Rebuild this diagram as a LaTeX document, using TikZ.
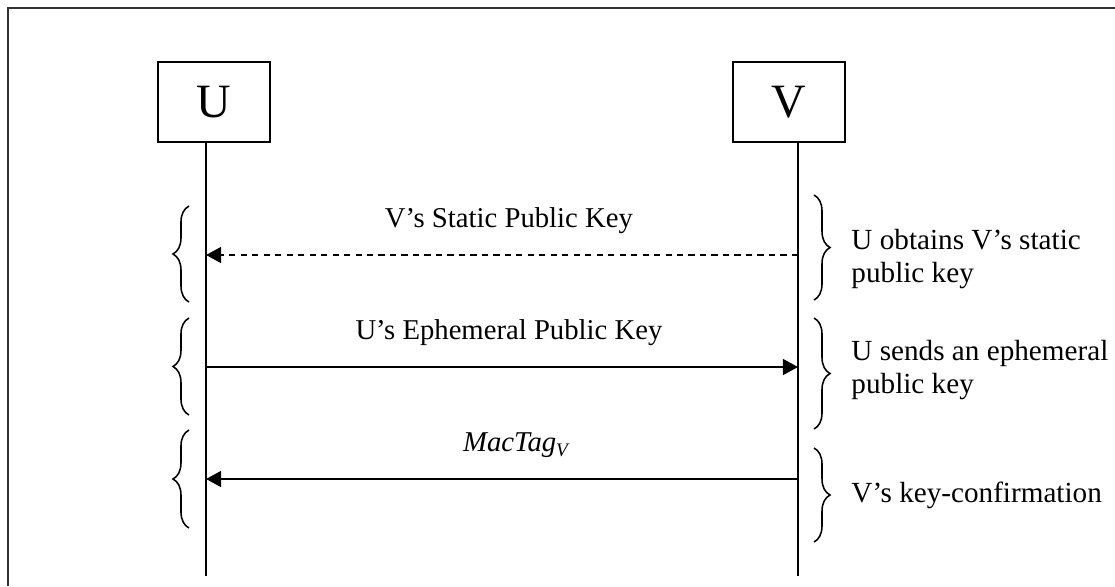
\documentclass[tikz,border=0pt]{standalone}
\usepackage{fontspec}
\setmainfont{Liberation Serif}
\usetikzlibrary{arrows.meta,decorations.pathreplacing}

\begin{document}
\begin{tikzpicture}[x=0.01469cm, y=-0.01469cm, node distance=8.45cm,
                    party/.style={rectangle,draw,line width=1pt,minimum width=46.8pt,minimum height=33.4pt,
                                  font=\fontsize{20}{24}\selectfont},
                    life/.style={line width=0.6pt},
                    msg/.style={line width=0.6pt,-{Triangle[length=6.3pt,width=6.7pt]}},
                    dashline/.style={dash pattern=on 2.6pt off 2.2pt},
                    msglabel/.style={anchor=base,yshift=11.3pt,xshift=2.9pt,font=\fontsize{12}{14}\selectfont},
                    curly/.style={decorate,decoration={brace,amplitude=6.7pt},line width=0.65pt},
                    sidenote/.style={anchor=base west,align=left,inner sep=0pt,font=\fontsize{12.2}{13.4}\selectfont}]

  \useasboundingbox (0,0) rectangle (1115,586);

  % frame
  \draw[line width=0.8pt,black!80] (8,586) -- (8,8) -- (1115,8);

  \node[party] (U) at (214,102) {U};
  \node[party] (V) [right of=U] {V};

  \coordinate (Uend) at (206,576);
  \coordinate (Vend) at (798,576);
  \draw[life] (U.south -| Uend) -- (Uend);
  \draw[life] (V.south -| Vend) -- (Vend);

  \coordinate (u1) at (206,255);
  \coordinate (v1) at (798,255);
  \coordinate (u2) at (206,367);
  \coordinate (v2) at (798,367);
  \coordinate (u3) at (206,479);
  \coordinate (v3) at (798,479);

\path[msg]
    (v1) edge[dashline] node [msglabel] {V’s Static Public Key} (u1)
    (u2) edge node [msglabel] {U’s Ephemeral Public Key} (v2)
    (v3) edge node [msglabel,xshift=3pt] {\textit{MacTag\textsubscript{V}}} (u3);

  % braces
  \draw[curly] (189,302) -- (189,206);
  \draw[curly] (189,415) -- (189,318);
  \draw[curly] (189,528) -- (189,430);
  \draw[curly] (814,195) -- (814,300);
  \draw[curly] (814,318) -- (814,429);
  \draw[curly] (814,448) -- (814,542);

  \node[sidenote] (n1) at (851,282) {U obtains V’s static\\public key};
  \node[sidenote] (n2) at (851,393) {U sends an ephemeral\\public key};
  \node[sidenote] (n3) at (851,502) {V’s key-confirmation};

\end{tikzpicture}
\end{document}
